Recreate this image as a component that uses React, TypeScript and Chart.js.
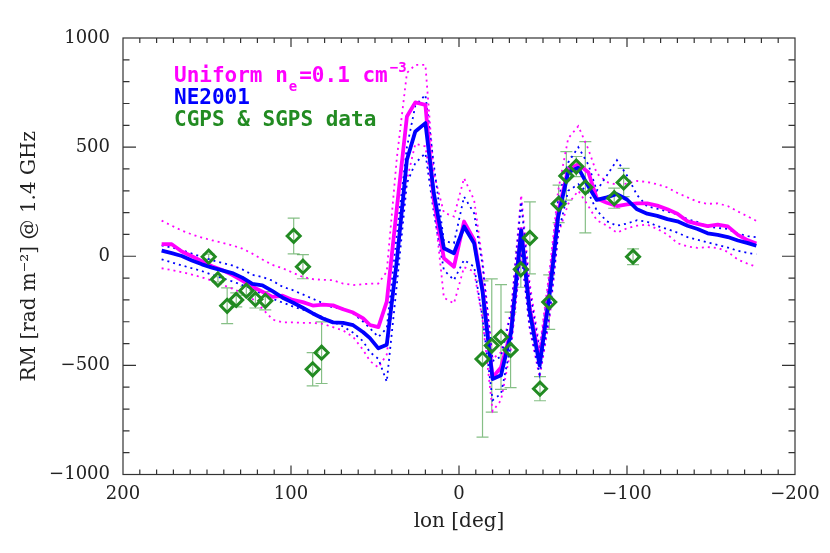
import React, { useEffect, useRef } from 'react';
import { Chart, registerables } from 'chart.js';

Chart.register(...registerables);

// ---- data ----
const lon = [177, 171, 165, 159, 153, 147, 141, 135, 129, 123, 117, 111, 105, 99, 93, 87, 81, 75, 69, 63, 57, 53, 48, 43, 37, 31, 26, 20, 15, 9, 3, -3, -9, -14, -20, -25, -31, -37, -42, -48, -54, -59, -65, -71, -77, -82, -88, -94, -100, -106, -112, -118, -124, -130, -136, -142, -148, -154, -160, -166, -172, -177];

const uniform = [56, 55, 22, 0, -23, -46, -63, -85, -112, -140, -163, -186, -181, -200, -210, -226, -222, -225, -243, -258, -285, -315, -325, -208, 220, 640, 705, 694, 258, -9, -48, 159, 75, -150, -555, -510, -340, 125, -230, -485, -150, 200, 400, 420, 385, 265, 245, 230, 238, 242, 242, 232, 215, 195, 160, 148, 138, 145, 137, 98, 73, 58];

const uniformHi = [163, 140, 118, 100, 85, 73, 62, 50, 35, 12, -15, -40, -55, -75, -95, -105, -108, -110, -125, -132, -128, -125, -125, -70, 450, 840, 877, 877, 380, 200, 182, 358, 258, -20, -470, -440, -250, 280, -120, -420, -60, 300, 540, 596, 490, 380, 340, 328, 333, 345, 340, 330, 315, 290, 270, 250, 240, 242, 230, 205, 182, 162];

const uniformLo = [-55, -63, -73, -84, -97, -112, -130, -148, -168, -195, -240, -290, -303, -303, -305, -305, -310, -325, -340, -370, -430, -480, -510, -450, -50, 350, 515, 503, 250, -190, -216, -50, -70, -290, -710, -660, -420, 20, -330, -555, -280, 100, 240, 300, 230, 165, 140, 108, 128, 140, 145, 125, 100, 60, 45, 38, 42, 38, 20, -15, -35, -48];

const ne2001 = [26, 14, 1, -19, -37, -52, -65, -77, -98, -127, -133, -160, -190, -212, -236, -262, -285, -303, -305, -316, -348, -375, -422, -405, -20, 442, 572, 610, 290, 37, 14, 136, 60, -160, -563, -545, -350, 119, -250, -500, -170, 180, 385, 405, 320, 258, 270, 285, 260, 215, 195, 185, 170, 160, 140, 125, 105, 98, 88, 72, 60, 48];

const ne2001Hi = [50, 40, 28, 12, -3, -18, -30, -42, -60, -85, -95, -112, -140, -155, -175, -195, -215, -235, -240, -262, -300, -330, -370, -330, 100, 500, 690, 740, 420, 70, 60, 273, 197, -40, -480, -460, -260, 250, -150, -440, -90, 260, 430, 500, 420, 300, 370, 440, 370, 280, 228, 218, 205, 192, 170, 157, 135, 130, 125, 103, 92, 87];

const ne2001Lo = [-14, -28, -42, -55, -68, -85, -100, -115, -132, -148, -175, -195, -212, -230, -245, -258, -280, -300, -322, -350, -390, -440, -470, -575, -130, 335, 427, 472, 200, -63, -109, -17, -48, -280, -660, -630, -400, 30, -320, -540, -260, 100, 300, 330, 290, 210, 160, 140, 150, 165, 158, 138, 125, 108, 88, 75, 63, 52, 40, 25, 15, 10];

const dataLon = [149, 143.5, 138, 132.6, 126.6, 121.2, 115.3, 98.4, 92.9, 87.1, 81.8, -14, -19.5, -25, -30.7, -36.8, -42.2, -48.2, -53.7, -59.3, -63.9, -69.8, -75.2, -92.4, -98, -103.6];
const dataRM = [-2, -106, -227, -200, -158, -197, -204, 93, -48, -518, -442, -471, -409, -370, -429, -60, 84, -607, -210, 240, 368, 411, 316, 266, 338, -2];
const dataErr = [12, 12, 82, 32, 20, 40, 42, 82, 55, 76, 141, 358, 305, 240, 173, 82, 165, 55, 125, 86, 111, 46, 209, 46, 65, 36];

const xMajorStep = 100;
const xMinorStep = 10;
const yMajorStep = 500;
const yMinorStep = 100;

const MAGENTA = '#ff00ff';
const BLUE = '#0000ff';
const GREEN = '#228b22';
const AXIS = '#333333';

const pts = (xs: number[], ys: number[]) => xs.map((x, i) => ({ x, y: ys[i] }));
const fmt = (v: any) => {
  const n = Number(v);
  return n < 0 ? '\u2212' + Math.abs(n) : String(n);
};

const errorBarsPlugin = {
  id: 'errorBars',
  beforeDatasetsDraw(chart: any) {
    const { ctx, chartArea: a, scales } = chart;
    const xs = scales.x;
    const ys = scales.y;
    ctx.save();
    ctx.beginPath();
    ctx.rect(a.left, a.top, a.right - a.left, a.bottom - a.top);
    ctx.clip();
    ctx.strokeStyle = 'rgba(34,139,34,0.55)';
    ctx.lineWidth = 1.2;
    dataLon.forEach((l, i) => {
      const px = xs.getPixelForValue(l);
      const y1 = ys.getPixelForValue(dataRM[i] + dataErr[i]);
      const y2 = ys.getPixelForValue(dataRM[i] - dataErr[i]);
      ctx.beginPath();
      ctx.moveTo(px, y1);
      ctx.lineTo(px, y2);
      ctx.moveTo(px - 6, y1);
      ctx.lineTo(px + 6, y1);
      ctx.moveTo(px - 6, y2);
      ctx.lineTo(px + 6, y2);
      ctx.stroke();
    });
    ctx.restore();
  },
};

const framePlugin = {
  id: 'frame',
  afterDraw(chart: any) {
    const { ctx, chartArea: a, scales } = chart;
    const xs = scales.x;
    const ys = scales.y;
    ctx.save();
    ctx.strokeStyle = AXIS;
    ctx.lineWidth = 1.2;
    ctx.strokeRect(a.left, a.top, a.right - a.left, a.bottom - a.top);
    ctx.beginPath();
    for (let v = xs.min; v <= xs.max + 1e-6; v += xMinorStep) {
      if (v === xs.min || v === xs.max) continue;
      const px = xs.getPixelForValue(v);
      const len = Math.abs(v % xMajorStep) < 1e-6 ? 9 : 5;
      ctx.moveTo(px, a.bottom);
      ctx.lineTo(px, a.bottom - len);
      ctx.moveTo(px, a.top);
      ctx.lineTo(px, a.top + len);
    }
    for (let v = ys.min; v <= ys.max + 1e-6; v += yMinorStep) {
      if (v === ys.min || v === ys.max) continue;
      const py = ys.getPixelForValue(v);
      const len = Math.abs(v % yMajorStep) < 1e-6 ? 13 : 6.5;
      ctx.moveTo(a.left, py);
      ctx.lineTo(a.left + len, py);
      ctx.moveTo(a.right, py);
      ctx.lineTo(a.right - len, py);
    }
    ctx.stroke();

    // legend text
    const big = 'bold 21px "DejaVu Sans Mono"';
    const small = 'bold 14px "DejaVu Sans Mono"';
    const x0 = 174;
    ctx.textBaseline = 'alphabetic';
    ctx.textAlign = 'left';
    ctx.fillStyle = MAGENTA;
    ctx.font = big;
    const t1 = 'Uniform n';
    ctx.fillText(t1, x0, 82);
    let x = x0 + ctx.measureText(t1).width + 1;
    ctx.font = small;
    ctx.fillText('e', x, 91);
    x += ctx.measureText('e').width + 2;
    ctx.font = big;
    const t2 = '=0.1 cm';
    ctx.fillText(t2, x, 82);
    x += ctx.measureText(t2).width + 2;
    ctx.font = small;
    ctx.fillText('\u22123', x, 72);
    ctx.font = big;
    ctx.fillStyle = BLUE;
    ctx.fillText('NE2001', x0, 104);
    ctx.fillStyle = GREEN;
    ctx.fillText('CGPS & SGPS data', x0, 126);
    ctx.restore();
  },
};

export default function App() {
  const ref = useRef<HTMLCanvasElement | null>(null);
  useEffect(() => {
    document.body.style.margin = '0';
    const canvas = ref.current;
    if (!canvas) return;
    const thick = (label: string, color: string, ys: number[]) => ({
      label,
      data: pts(lon, ys),
      showLine: true,
      borderColor: color,
      backgroundColor: color,
      borderWidth: 3.8,
      pointRadius: 0,
      tension: 0,
      borderJoinStyle: 'round' as const,
    });
    const dotted = (label: string, color: string, ys: number[]) => ({
      label,
      data: pts(lon, ys),
      showLine: true,
      borderColor: color,
      backgroundColor: color,
      borderWidth: 1.8,
      borderDash: [2, 4],
      pointRadius: 0,
      tension: 0,
    });
    const chart = new Chart(canvas, {
      type: 'scatter',
      data: {
        datasets: [
          {
            label: 'CGPS & SGPS data',
            data: pts(dataLon, dataRM),
            showLine: false,
            pointStyle: 'rectRot',
            pointRadius: 6.5,
            borderWidth: 3,
            borderColor: GREEN,
            backgroundColor: 'rgba(0,0,0,0)',
          },
          thick('NE2001', BLUE, ne2001),
          thick('Uniform', MAGENTA, uniform),
          dotted('NE2001 hi', BLUE, ne2001Hi),
          dotted('NE2001 lo', BLUE, ne2001Lo),
          dotted('Uniform hi', MAGENTA, uniformHi),
          dotted('Uniform lo', MAGENTA, uniformLo),
        ] as any,
      },
      options: {
        responsive: false,
        animation: false,
        devicePixelRatio: 1,
        layout: { padding: { top: 38, right: 35, left: 0, bottom: 0 } },
        plugins: { legend: { display: false }, tooltip: { enabled: false } },
        scales: {
          x: {
            type: 'linear',
            min: -200,
            max: 200,
            reverse: true,
            afterFit: (s: any) => { s.height = 78.5; },
            grid: { display: false, drawTicks: false },
            border: { display: false },
            ticks: {
              stepSize: xMajorStep,
              padding: 9,
              autoSkip: false,
              maxRotation: 0,
              color: '#222',
              font: { family: 'DejaVu Serif', size: 18 },
              callback: fmt,
            },
            title: {
              display: true,
              text: 'lon [deg]',
              color: '#222',
              font: { family: 'DejaVu Serif', size: 20 },
              padding: { top: 0, bottom: 19 },
            },
          },
          y: {
            type: 'linear',
            min: -1000,
            max: 1000,
            afterFit: (s: any) => { s.width = 123; },
            grid: { display: false, drawTicks: false },
            border: { display: false },
            ticks: {
              stepSize: yMajorStep,
              padding: 13,
              color: '#222',
              font: { family: 'DejaVu Serif', size: 18 },
              callback: fmt,
            },
            title: {
              display: true,
              text: 'RM [rad m\u207B\u00B2] @ 1.4 GHz',
              color: '#222',
              font: { family: 'DejaVu Serif', size: 20 },
              padding: { top: 18, bottom: 0 },
            },
          },
        },
      } as any,
      plugins: [errorBarsPlugin, framePlugin],
    });
    return () => chart.destroy();
  }, []);
  return (
    <canvas
      ref={ref}
      width={830}
      height={553}
      style={{ display: 'block', width: '830px', height: '553px' }}
    />
  );
}
